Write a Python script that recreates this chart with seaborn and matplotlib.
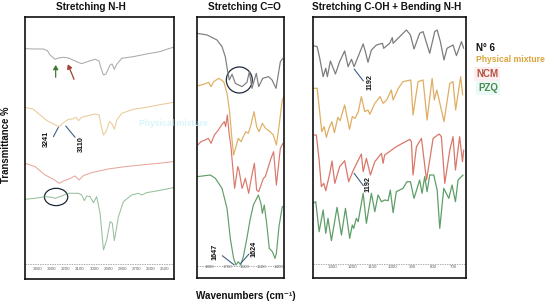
import matplotlib

matplotlib.use("Agg")

import matplotlib.pyplot as plt
import seaborn as sns
from matplotlib.patches import Ellipse

# spectra are read off the picture, y is a stacked transmittance scale without units
nh_ticks = [3400, 3300, 3200, 3100, 3000, 2900, 2800, 2700, 2600, 2500]
co_ticks = [1800, 1700, 1600, 1500, 1400]
fp_ticks = [1300, 1200, 1100, 1000, 900, 800, 700]

# Stretching N-H
nh_n6_w = [3490, 3431, 3360, 3332, 3313, 3277, 3254, 3218, 3183, 3136, 3089, 3042, 2994, 2966, 2952, 2935, 2917, 2888, 2874, 2858, 2841, 2806, 2723, 2629, 2535, 2487, 2436]
nh_n6_t = [692, 691, 691, 686, 673, 660, 664, 666, 664, 655, 647, 654, 660, 655, 633, 613, 616, 643, 646, 630, 645, 663, 668, 676, 683, 690, 697]
nh_pm_w = [3490, 3431, 3383, 3336, 3289, 3247, 3218, 3183, 3152, 3129, 3112, 3089, 3042, 2994, 2966, 2952, 2935, 2917, 2893, 2874, 2858, 2841, 2806, 2723, 2629, 2535, 2436]
nh_pm_t = [516, 510, 493, 476, 466, 458, 470, 480, 481, 486, 476, 486, 491, 496, 493, 463, 433, 443, 473, 466, 450, 478, 498, 510, 516, 524, 531]
nh_ncm_w = [3490, 3419, 3348, 3289, 3247, 3218, 3183, 3136, 3108, 3077, 3018, 2900, 2782, 2664, 2546, 2440]
nh_ncm_t = [348, 338, 313, 300, 288, 295, 300, 310, 298, 311, 320, 331, 338, 343, 348, 353]
nh_pzq_w = [3490, 3419, 3348, 3301, 3277, 3242, 3183, 3112, 3089, 3070, 3053, 3030, 3006, 2983, 2959, 2935, 2912, 2888, 2872, 2858, 2829, 2794, 2735, 2688, 2664, 2629, 2546, 2440]
nh_pzq_t = [240, 243, 248, 246, 243, 248, 258, 258, 253, 236, 250, 248, 230, 248, 198, 88, 118, 173, 168, 116, 188, 233, 253, 258, 253, 260, 266, 275]

# Stretching C=O
co_n6_w = [1873, 1815, 1758, 1729, 1710, 1696, 1687, 1671, 1652, 1633, 1613, 1585, 1571, 1556, 1531, 1517, 1494, 1460, 1440, 1417, 1392, 1377]
co_n6_t = [738, 733, 718, 698, 668, 623, 598, 615, 588, 583, 578, 591, 623, 573, 618, 578, 603, 608, 598, 573, 653, 663]
co_pm_w = [1873, 1835, 1806, 1792, 1777, 1748, 1719, 1700, 1685, 1671, 1662, 1648, 1635, 1619, 1606, 1592, 1577, 1562, 1544, 1529, 1515, 1496, 1477, 1452, 1433, 1415, 1400, 1381, 1371]
co_pm_t = [580, 585, 591, 578, 593, 603, 593, 558, 503, 418, 373, 398, 423, 413, 428, 443, 438, 463, 503, 458, 443, 468, 453, 443, 433, 403, 458, 538, 548]
co_ncm_w = [1869, 1850, 1827, 1808, 1792, 1773, 1750, 1731, 1715, 1708, 1698, 1688, 1677, 1669, 1656, 1638, 1631, 1613, 1606, 1594, 1575, 1558, 1542, 1529, 1517, 1490, 1479, 1446, 1431, 1415, 1392, 1377]
co_ncm_t = [403, 413, 418, 423, 408, 433, 448, 463, 473, 458, 493, 438, 398, 348, 273, 338, 328, 273, 283, 303, 258, 308, 348, 268, 263, 303, 308, 363, 383, 283, 393, 408]
co_pzq_w = [1873, 1796, 1767, 1729, 1700, 1681, 1662, 1648, 1635, 1621, 1606, 1587, 1567, 1548, 1519, 1504, 1496, 1485, 1471, 1456, 1438, 1423, 1415, 1400, 1381, 1371]
co_pzq_t = [308, 313, 303, 273, 213, 123, 63, 43, 53, 43, 68, 118, 178, 223, 253, 228, 198, 223, 168, 93, 83, 63, 78, 158, 218, 218]

# Stretching C-OH + Bending N-H
fp_n6_w = [1396, 1376, 1363, 1346, 1333, 1325, 1310, 1285, 1264, 1239, 1222, 1205, 1192, 1147, 1136, 1123, 1106, 1081, 1051, 1045, 1015, 1002, 998, 957, 932, 912, 894, 866, 849, 816, 791, 779, 763, 745, 730, 700, 683, 658, 647]
fp_n6_t = [701, 698, 663, 608, 633, 608, 655, 616, 653, 685, 638, 660, 638, 706, 683, 651, 688, 703, 708, 693, 708, 725, 708, 733, 748, 733, 691, 738, 743, 678, 743, 748, 713, 658, 693, 703, 671, 713, 693]
fp_pm_w = [1396, 1376, 1366, 1353, 1341, 1330, 1317, 1303, 1290, 1273, 1262, 1239, 1229, 1215, 1201, 1187, 1171, 1156, 1139, 1123, 1114, 1089, 1063, 1048, 1030, 1007, 998, 972, 949, 910, 899, 874, 849, 829, 804, 793, 781, 769, 745, 716, 700, 687, 662, 652]
fp_pm_t = [573, 573, 518, 443, 458, 426, 453, 473, 440, 486, 476, 523, 493, 450, 488, 483, 503, 548, 503, 508, 495, 528, 548, 528, 538, 568, 538, 573, 593, 598, 493, 593, 598, 478, 603, 538, 568, 538, 473, 588, 593, 508, 608, 553]
fp_ncm_w = [1396, 1380, 1366, 1355, 1343, 1333, 1313, 1302, 1288, 1264, 1239, 1219, 1197, 1156, 1147, 1131, 1111, 1089, 1056, 1048, 1040, 982, 915, 907, 899, 882, 857, 832, 816, 799, 769, 758, 741, 716, 700, 688, 667, 653, 647]
fp_ncm_t = [433, 433, 358, 278, 288, 266, 318, 355, 288, 338, 356, 293, 326, 376, 323, 363, 313, 353, 378, 348, 373, 398, 420, 413, 313, 398, 423, 298, 358, 423, 436, 428, 288, 388, 428, 328, 428, 353, 388]
fp_pzq_w = [1396, 1383, 1366, 1346, 1333, 1322, 1305, 1277, 1255, 1235, 1214, 1201, 1194, 1181, 1172, 1147, 1131, 1106, 1089, 1073, 1056, 1040, 1023, 1012, 998, 982, 949, 929, 912, 894, 866, 854, 841, 829, 816, 796, 779, 766, 746, 721, 705, 688, 675, 650]
fp_pzq_t = [228, 233, 143, 208, 138, 183, 116, 216, 133, 213, 123, 163, 153, 183, 173, 258, 168, 258, 203, 253, 233, 238, 236, 268, 200, 263, 273, 293, 293, 243, 298, 258, 308, 263, 313, 313, 268, 153, 273, 243, 283, 233, 298, 313]

sns.set_style("white")
plt.rcParams["font.family"] = ["Liberation Sans", "DejaVu Sans"]

W, H = 550, 304
C_N6, C_PM, C_NCM, C_PZQ = "#7d7d7d", "#dfae62", "#d9776a", "#5f9e68"
C_LINE = "#3f5f8a"


def add_axes(fig, left, right, top, bottom):
    return fig.add_axes([left / W, 1 - bottom / H, (right - left) / W, (bottom - top) / H])


def draw_panel(ax, series, xlim, ylim, ticks, base, lw, alpha=1.0):
    for wave, trans, color in series:
        sns.lineplot(x=wave, y=trans, ax=ax, color=color, linewidth=lw, alpha=alpha, sort=False, estimator=None)
    ax.axhline(base, color="#8a8a8a", linewidth=0.5, linestyle=(0, (2, 1.5)))
    ax.set_xlim(*xlim)
    ax.set_ylim(*ylim)
    ax.set_xticks(ticks)
    ax.set_xticklabels([str(t) for t in ticks], fontsize=3.2, color="#666666")
    ax.tick_params(axis="x", length=0, pad=-9.2)
    ax.set_yticks([])
    ax.set_xlabel("")
    ax.set_ylabel("")
    for spine in ax.spines.values():
        spine.set_visible(True)
        spine.set_color("#111111")
        spine.set_linewidth(1.2)


def peak_label(ax, text, x, y, x0, y0, x1, y1):
    ax.text(x, y, text, rotation=90, fontsize=5.2, fontweight="bold", ha="center", va="center", color="#111111")
    ax.plot([x0, x1], [y0, y1], color=C_LINE, linewidth=0.8)


fig = plt.figure(figsize=(W / 100, H / 100), dpi=100)

ax1 = add_axes(fig, 25, 174, 17.3, 279.3)
draw_panel(
    ax1,
    [(nh_n6_w, nh_n6_t, C_N6), (nh_pm_w, nh_pm_t, C_PM), (nh_ncm_w, nh_ncm_t, C_NCM), (nh_pzq_w, nh_pzq_t, C_PZQ)],
    (3490, 2436),
    (0, 786),
    nh_ticks,
    45,
    0.75,
    alpha=0.65,
)
ax1.annotate(
    "",
    xy=(3273, 643),
    xytext=(3273, 606),
    arrowprops=dict(arrowstyle="-|>,head_width=0.15,head_length=0.25", color="#3f7a35", lw=0.9, shrinkA=0, shrinkB=0),
)
ax1.annotate(
    "",
    xy=(3187, 645),
    xytext=(3143, 600),
    arrowprops=dict(arrowstyle="-|>,head_width=0.15,head_length=0.25", color="#a04030", lw=0.9, shrinkA=0, shrinkB=0),
)
peak_label(ax1, "3241", 3336, 420, 3289, 428, 3254, 456)
peak_label(ax1, "3110", 3089, 406, 3136, 426, 3202, 460)
ax1.add_patch(Ellipse((3270, 247), 165, 52, fill=False, edgecolor="#1d2a3a", linewidth=0.9))

ax2 = add_axes(fig, 196.7, 284, 17.3, 277.7)
draw_panel(
    ax2,
    [(co_n6_w, co_n6_t, C_N6), (co_pm_w, co_pm_t, C_PM), (co_ncm_w, co_ncm_t, C_NCM), (co_pzq_w, co_pzq_t, C_PZQ)],
    (1875, 1371),
    (5, 786),
    co_ticks,
    40,
    0.85,
)
ax2.add_patch(Ellipse((1629, 598), 150, 78, fill=False, edgecolor="#1d2a3a", linewidth=0.9))
peak_label(ax2, "1647", 1767, 83, 1727, 71, 1658, 43)
peak_label(ax2, "1624", 1544, 90, 1573, 76, 1621, 48)

ax3 = add_axes(fig, 312.7, 465.7, 17.3, 277.7)
draw_panel(
    ax3,
    [(fp_n6_w, fp_n6_t, C_N6), (fp_pm_w, fp_pm_t, C_PM), (fp_ncm_w, fp_ncm_t, C_NCM), (fp_pzq_w, fp_pzq_t, C_PZQ)],
    (1398, 637),
    (5, 786),
    fp_ticks,
    45,
    0.9,
)
peak_label(ax3, "1192", 1111, 591, 1192, 631, 1146, 595)
peak_label(ax3, "1192", 1121, 285, 1192, 318, 1146, 281)

title_kw = dict(fontsize=7.2, fontweight="bold", ha="center", va="center", color="#111111")
fig.text(91 / W, 1 - 7 / H, "Stretching N-H", **title_kw)
fig.text(244 / W, 1 - 7 / H, "Stretching C=O", **title_kw)
fig.text(387 / W, 1 - 7 / H, "Stretching C-OH + Bending N-H", **title_kw)

fig.text(6 / W, 1 - 145 / H, "Transmittance %", rotation=90, fontsize=6.9, fontweight="bold", ha="center", va="center", color="#111111")
fig.text(246 / W, 1 - 296 / H, "Wavenumbers (cm⁻¹)", fontsize=7.1, fontweight="bold", ha="center", va="center", color="#111111")

fig.text(476 / W, 1 - 48 / H, "N° 6", fontsize=7, fontweight="bold", va="center", color="#111111")
fig.text(476 / W, 1 - 59 / H, "Physical mixture", fontsize=6.2, fontweight="bold", va="center", color="#dba43c")
fig.text(476 / W, 1 - 74 / H, "NCM", fontsize=7, fontweight="bold", va="center", color="#b5533f", bbox=dict(facecolor="#fdeef0", edgecolor="none", pad=1.5))
fig.text(478 / W, 1 - 88 / H, "PZQ", fontsize=7, fontweight="bold", va="center", color="#4f8a50", bbox=dict(facecolor="#eafaf6", edgecolor="none", pad=1.5))

# faint leftover of the legend that shows through the left panels
fig.text(139 / W, 1 - 124 / H, "Physical mixture", fontsize=6.2, fontweight="bold", va="center", color="#d9f5fb", zorder=0.5)

fig.savefig("out.png", dpi=100)
plt.close(fig)
